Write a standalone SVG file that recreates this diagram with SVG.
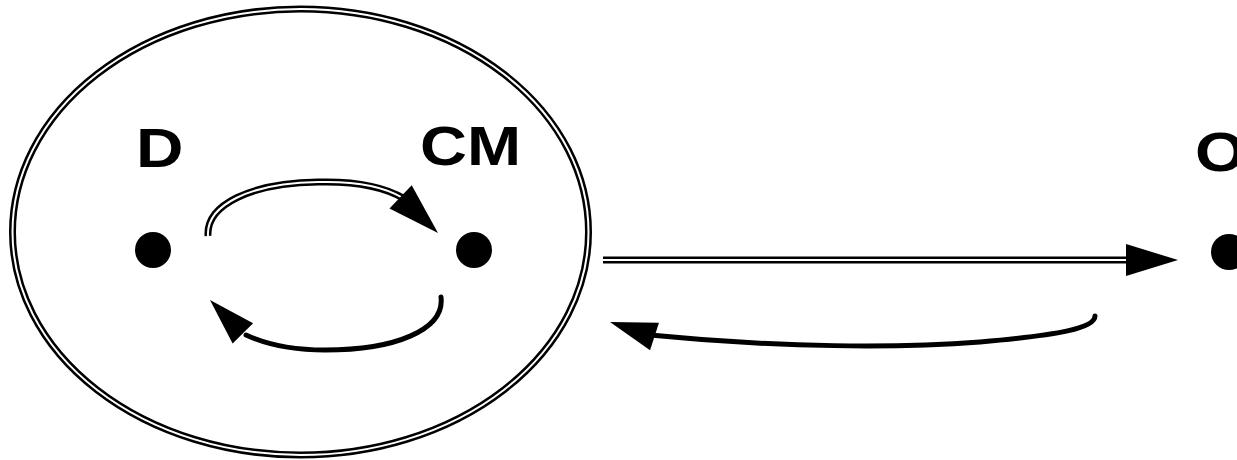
<svg xmlns="http://www.w3.org/2000/svg" width="1237" height="460" viewBox="0 0 1237 460">
  <style>
    .dbl-out { fill: none; stroke: #000; stroke-width: 7; }
    .dbl-in { fill: none; stroke: #fff; stroke-width: 2; }
    .sgl { fill: none; stroke: #000; stroke-width: 5; stroke-linecap: round; }
    .dot { fill: #000; }
    .lbl { font-family: "Liberation Sans", Arial, Helvetica, sans-serif; font-weight: bold; font-size: 55px; fill: #000; }
  </style>
  <defs>
    <!-- arrowhead with its tip at the origin, pointing along +x -->
    <path id="head" d="M0,0 L-52,-16 L-52,16 Z" fill="#000"/>
  </defs>
  <rect width="1237" height="460" fill="#fff"/>

  <!-- enclosing system boundary (double outline) -->
  <g id="system">
    <ellipse class="dbl-out" cx="300.5" cy="232" rx="288" ry="223"/>
    <ellipse class="dbl-in" cx="300.5" cy="232" rx="288" ry="223"/>
  </g>

  <g id="node-D">
    <text class="lbl" x="136" y="167" textLength="47.5" lengthAdjust="spacingAndGlyphs">D</text>
    <circle class="dot" cx="153" cy="250" r="18"/>
  </g>

  <g id="node-CM">
    <text class="lbl" x="420" y="165" textLength="101" lengthAdjust="spacingAndGlyphs">CM</text>
    <circle class="dot" cx="474" cy="250" r="18"/>
  </g>

  <g id="node-O">
    <text class="lbl" x="1195" y="171" textLength="51" lengthAdjust="spacingAndGlyphs">O</text>
    <circle class="dot" cx="1229" cy="252" r="18"/>
  </g>

  <g id="connectors">
    <!-- D to CM, double line over the top -->
    <path class="dbl-out" d="M208,236 C206,205 250,183 318,182 C355,181 385,187 405,199"/>
    <path class="dbl-in" d="M208,236 C206,205 250,183 318,182 C355,181 385,187 403,198"/>
    <use href="#head" transform="translate(438,233) rotate(44)"/>

    <!-- CM back to D, single line underneath -->
    <path class="sgl" d="M441,297 C445,330 395,350 325,350 C295,350 268,345 246,335"/>
    <use href="#head" transform="translate(210,300) rotate(225.4) scale(0.9)"/>

    <!-- system to O, double line -->
    <path class="dbl-out" d="M603,260 H1135"/>
    <path class="dbl-in" d="M603,260 H1133"/>
    <use href="#head" transform="translate(1178,260)"/>

    <!-- O back to system, single line -->
    <path class="sgl" d="M1095,316 C1095,328 1060,335 980,342 C900,348 780,348 650,335"/>
    <use href="#head" transform="translate(610,322) rotate(198) scale(0.9)"/>
  </g>
</svg>
